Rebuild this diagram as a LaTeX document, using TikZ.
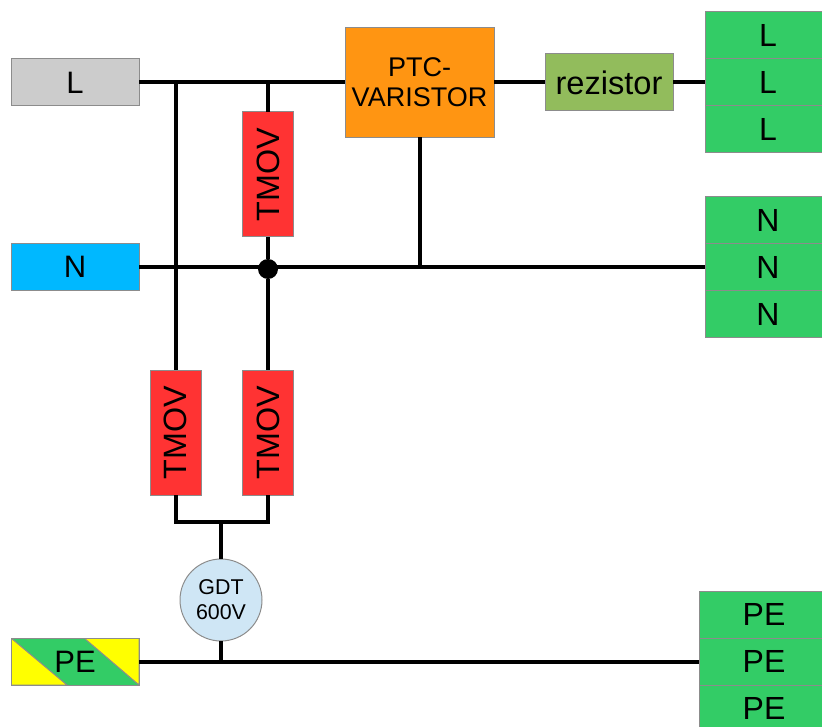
\documentclass[tikz,border=0pt]{standalone}
\usepackage{fontspec}
\setmainfont{Liberation Sans}
\usetikzlibrary{positioning}
\definecolor{edgegray}{HTML}{8C8C8C}
\definecolor{termgray}{HTML}{CCCCCC}
\definecolor{termblue}{HTML}{00B8FF}
\definecolor{termgreen}{HTML}{33CC66}
\definecolor{peyellow}{HTML}{FFFF00}
\definecolor{movred}{HTML}{FF3333}
\definecolor{ptcorange}{HTML}{FF9512}
\definecolor{resgreen}{HTML}{92BC5C}
\definecolor{gdtblue}{HTML}{CFE6F5}

\begin{document}
\begin{tikzpicture}[
        x=1pt, y=-1pt,
        box/.style={rectangle, draw=edgegray, line width=1pt, outer sep=0pt, inner sep=0pt},
        termnode/.style={box, minimum width=128pt, minimum height=47pt, font=\fontsize{31}{31}\selectfont},
        outnode/.style={box, fill=termgreen, minimum width=126pt, minimum height=47pt, font=\fontsize{32}{32}\selectfont},
        penode/.style={outnode, minimum width=130pt},
        movnode/.style={box, fill=movred, rotate=90, minimum width=125pt, minimum height=51pt, font=\fontsize{32.3}{32}\selectfont},
        wire/.style={line width=4pt},
        node distance=0pt
        ]
        \useasboundingbox (0,0) rectangle (822,727);
        % incoming terminals
        \node[termnode, fill=termgray]      (l_in)    at (75,82.5)    {L};
        \node[termnode, fill=termblue]      (n_in)    at (75,267)     {N};
        \node[termnode, fill=termgreen, path picture={
                \filldraw[fill=peyellow, draw=edgegray, line width=1pt] (path picture bounding box.north west)
                    -- ([xshift=56pt]path picture bounding box.south west) -- (path picture bounding box.south west) -- cycle;
                \filldraw[fill=peyellow, draw=edgegray, line width=1pt] ([xshift=-55pt]path picture bounding box.north east)
                    -- (path picture bounding box.south east) -- (path picture bounding box.north east) -- cycle;
            }]                              (pe_in)   at (75,661.5)   {PE};
        % surge parts
        \node[movnode]                      (mov_ln)  at (268,174.5)  {TMOV};
        \node[movnode]                      (mov_lpe) at (175.5,432.5) {TMOV};
        \node[movnode]                      (mov_npe) at (268,432.5)  {TMOV};
        \node[box, fill=ptcorange, minimum width=149pt, minimum height=110pt, align=center,
            font=\fontsize{27}{30}\selectfont]
                                            (ptc)     at (419.5,82.5) {PTC-\\VARISTOR};
        \node[box, fill=resgreen, minimum width=128pt, minimum height=57pt,
            font=\fontsize{32.6}{32}\selectfont]
                                            (res)     at (609,82.5)   {rezistor};
        \node[box, circle, fill=gdtblue, minimum size=82pt, align=center,
            font=\fontsize{21.4}{25}\selectfont]
                                            (gdt)     at (221,600)    {GDT\\600V};
        % outgoing terminals
        \node[outnode]                      (l_out1)  at (768,35.5)   {L};
        \node[outnode]                      (l_out2)  [below =of l_out1]  {L};
        \node[outnode]                      (l_out3)  [below =of l_out2]  {L};
        \node[outnode]                      (n_out1)  at (768,220)    {N};
        \node[outnode]                      (n_out2)  [below =of n_out1]  {N};
        \node[outnode]                      (n_out3)  [below =of n_out2]  {N};
        \node[penode]                       (pe_out1) at (764,614.5)  {PE};
        \node[penode]                       (pe_out2) [below =of pe_out1] {PE};
        \node[penode]                       (pe_out3) [below =of pe_out2] {PE};
        % junctions
        \node[circle, fill=black, inner sep=0pt, minimum size=20pt] (dot) at (268,269) {};
        \coordinate (j_lpe)  at (175.5,82.5);
        \coordinate (j_ln)   at (268,82.5);
        \coordinate (j_ptc)  at (419.5,267);
        \coordinate (j_mov)  at (221,522);
        \coordinate (j_pe)   at (221,661.5);
        \path[wire]
        (l_in)    edge (ptc)
        (ptc)     edge (res)
        (res)     edge (l_out2)
        (n_in)    edge (n_out2)
        (pe_in)   edge (pe_out2)
        (j_ln)    edge (mov_ln)
        (mov_ln)  edge (dot)
        (dot)     edge (mov_npe)
        (j_lpe)   edge (mov_lpe)
        (ptc)     edge (j_ptc)
        (j_mov)   edge (gdt)
        (gdt)     edge (j_pe);
        \draw[wire] (mov_lpe) |- (j_mov) -| (mov_npe);
\end{tikzpicture}
\end{document}
